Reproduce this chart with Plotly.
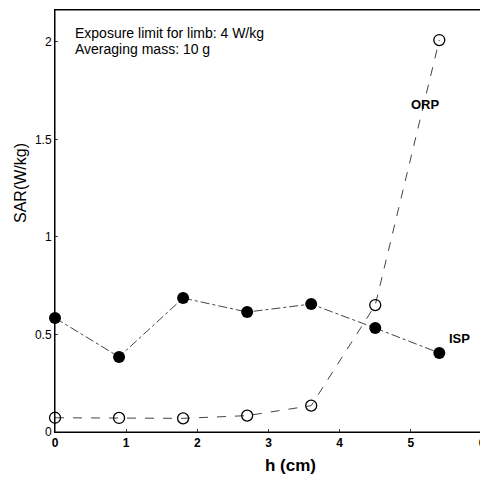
import plotly.graph_objects as go

h = [0, 0.9, 1.8, 2.7, 3.6, 4.5, 5.4]
isp = [0.585, 0.385, 0.687, 0.615, 0.656, 0.533, 0.405]
orp = [0.073, 0.072, 0.070, 0.084, 0.135, 0.651, 2.01]
x_ticks = [0, 1, 2, 3, 4, 5, 6]
y_ticks = [0, 0.5, 1, 1.5, 2]
y_tick_text = ["0", "0.5", "1", "1.5", "2"]

FONT = "Liberation Sans"
PH = 422  # plot height in px

fig = go.Figure()
fig.add_trace(go.Scatter(x=h, y=isp, mode="lines+markers",
                         line=dict(color="#444", width=1, dash="dashdot"),
                         marker=dict(symbol="circle", size=12, color="black"),
                         name="ISP", cliponaxis=False))
fig.add_trace(go.Scatter(x=h, y=orp, mode="lines+markers",
                         line=dict(color="#444", width=1, dash="dash"),
                         marker=dict(symbol="circle-open", size=11, color="black",
                                     line=dict(width=1.3)),
                         name="ORP", cliponaxis=False))

# plot frame
fig.add_shape(type="rect", xref="paper", yref="paper", x0=0, x1=1, y0=0, y1=1,
              line=dict(color="black", width=1), layer="above")

# Page body has an 8px margin: figure is drawn at (8, 8)
fig.add_annotation(x=0.042, y=1 - 23 / PH, xref="paper", yref="paper",
                   xanchor="left", yanchor="middle",
                   text="Exposure limit for limb: 4 W/kg", showarrow=False,
                   font=dict(family=FONT, size=14, color="black"))
fig.add_annotation(x=0.042, y=1 - 39 / PH, xref="paper", yref="paper",
                   xanchor="left", yanchor="middle",
                   text="Averaging mass: 10 g", showarrow=False,
                   font=dict(family=FONT, size=14, color="black"))
fig.add_annotation(x=5.2, y=1.68, text="<b>ORP</b>", showarrow=False,
                   font=dict(family=FONT, size=13, color="black"))
fig.add_annotation(x=5.68, y=0.477, text="<b>ISP</b>", showarrow=False,
                   font=dict(family=FONT, size=13, color="black"))
# axis titles
fig.add_annotation(x=-35 / 427, y=1 - 173 / PH, xref="paper", yref="paper",
                   text="SAR(W/kg)", textangle=-90, showarrow=False,
                   xanchor="center", yanchor="middle",
                   font=dict(family=FONT, size=16, color="black"))
fig.add_annotation(x=235 / 427, y=-33 / PH, xref="paper", yref="paper",
                   text="<b>h (cm)</b>", showarrow=False,
                   xanchor="center", yanchor="middle",
                   font=dict(family=FONT, size=17, color="black"))

fig.update_layout(
    width=480, height=472,
    margin=dict(l=47, r=6, t=2, b=48),
    paper_bgcolor="white", plot_bgcolor="white",
    showlegend=False,
    font=dict(family=FONT, color="black", size=12),
)
fig.update_xaxes(range=[0, 6], tickvals=x_ticks,
                 ticktext=["<b>%d</b>" % v for v in x_ticks],
                 showgrid=False, zeroline=False, showline=True, linecolor="black",
                 linewidth=1, mirror=True, ticks="inside", ticklen=3,
                 tickfont=dict(size=12, family=FONT), automargin=False)
fig.update_yaxes(range=[0, 2.164], tickvals=y_ticks, ticktext=y_tick_text,
                 showgrid=False, zeroline=False, showline=True, linecolor="black",
                 linewidth=1, mirror=True, ticks="inside", ticklen=3,
                 tickfont=dict(size=12, family=FONT), automargin=False)

fig.write_html("out.html")
